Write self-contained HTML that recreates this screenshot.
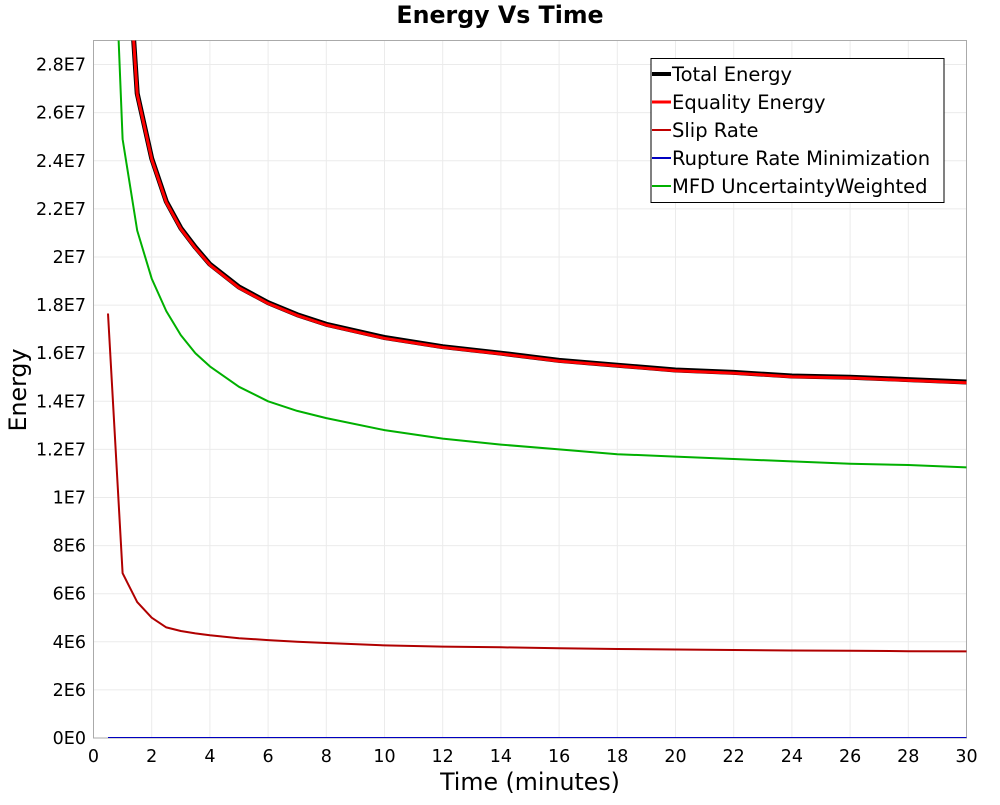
<!DOCTYPE html>
<html><head><meta charset="utf-8"><style>
body{margin:0;background:#fff}
svg text{font-family:"DejaVu Sans","Liberation Sans",sans-serif}
</style></head><body>
<svg id="chart" width="1000" height="800">
<text x="500" y="23" text-anchor="middle" font-size="23.7" font-weight="bold">Energy Vs Time</text>
<g id="grid"></g>
<rect x="93.5" y="40.5" width="873" height="697.5" fill="none" stroke="#aaa"/>
<g id="axes"></g>
<g id="series"></g>
<text x="530" y="790" text-anchor="middle" font-size="23.7">Time (minutes)</text>
<text transform="translate(26,390) rotate(-90)" text-anchor="middle" font-size="23.7">Energy</text>
<g>
<rect x="651" y="58.5" width="293" height="144" fill="#fff" stroke="#000"/>
<g id="legend"></g>
</g>
</svg>
<script>
const times=[0.5,1,1.5,2,2.5,3,3.5,4,5,6,7,8,10,12,14,16,18,20,22,24,26,28,30];
const totalEnergy=[6e7,3.6e7,2.68e7,2.41e7,2.23e7,2.12e7,2.04e7,1.97e7,1.875e7,1.81e7,1.76e7,1.72e7,1.665e7,1.627e7,1.6e7,1.57e7,1.55e7,1.53e7,1.52e7,1.505e7,1.5e7,1.49e7,1.48e7];
const equalityEnergy=[5.99e7,3.595e7,2.677e7,2.407e7,2.227e7,2.117e7,2.037e7,1.967e7,1.872e7,1.807e7,1.757e7,1.717e7,1.662e7,1.624e7,1.597e7,1.567e7,1.547e7,1.527e7,1.517e7,1.502e7,1.497e7,1.487e7,1.477e7];
const slipRate=[1.765e7,6.85e6,5.65e6,5.0e6,4.6e6,4.45e6,4.35e6,4.27e6,4.15e6,4.07e6,4.0e6,3.95e6,3.85e6,3.8e6,3.77e6,3.73e6,3.7e6,3.68e6,3.66e6,3.64e6,3.63e6,3.61e6,3.6e6];
const ruptureRate=[0,0,0,0,0,0,0,0,0,0,0,0,0,0,0,0,0,0,0,0,0,0,0];
const mfd=[4e7,2.49e7,2.11e7,1.91e7,1.775e7,1.675e7,1.6e7,1.545e7,1.46e7,1.4e7,1.36e7,1.33e7,1.28e7,1.245e7,1.22e7,1.2e7,1.18e7,1.17e7,1.16e7,1.15e7,1.14e7,1.135e7,1.125e7];
const xTicks=[0,2,4,6,8,10,12,14,16,18,20,22,24,26,28,30];
const yTicks=[0,2e6,4e6,6e6,8e6,1e7,1.2e7,1.4e7,1.6e7,1.8e7,2e7,2.2e7,2.4e7,2.6e7,2.8e7];
const yTickLabels=["0E0","2E6","4E6","6E6","8E6","1E7","1.2E7","1.4E7","1.6E7","1.8E7","2E7","2.2E7","2.4E7","2.6E7","2.8E7"];
const seriesNames=["Total Energy","Equality Energy","Slip Rate","Rupture Rate Minimization","MFD UncertaintyWeighted"];
const NS="http://www.w3.org/2000/svg";
const X0=93.5,X1=966.5,Y0=738,Y1=40.5,YMAX=2.9e7;
const sx=t=>X0+t/30*(X1-X0);
const sy=v=>Y0-v/YMAX*(Y0-Y1);
function mk(tag,attrs,parent){const e=document.createElementNS(NS,tag);for(const k in attrs)e.setAttribute(k,attrs[k]);parent.appendChild(e);return e;}
const grid=document.getElementById('grid'),axes=document.getElementById('axes'),ser=document.getElementById('series'),leg=document.getElementById('legend');
xTicks.forEach(t=>{
 const l=mk('line',{x1:sx(t),x2:sx(t),y1:Y1,y2:Y0,stroke:'#ebebeb'},grid);
 
 const tx=mk('text',{x:sx(t),y:762,'text-anchor':'middle','font-size':17.5},axes);tx.textContent=t;
 
});
yTicks.forEach((v,i)=>{
 const l=mk('line',{x1:X0,x2:X1,y1:sy(v),y2:sy(v),stroke:'#ebebeb'},grid);
 
 const tx=mk('text',{x:86,y:sy(v)+6,'text-anchor':'end','font-size':17.5},axes);tx.textContent=yTickLabels[i];
 
});
const defs=mk('defs',{},document.getElementById('chart'));
const cp=mk('clipPath',{id:'clip'},defs);mk('rect',{x:X0,y:Y1,width:X1-X0,height:Y0-Y1},cp);
const specs=[[totalEnergy,'#000',5,'total-energy-line'],[ruptureRate,'#0000c0',2,'rupture-rate-line'],[mfd,'#00b000',2,'mfd-line'],[slipRate,'#b00000',2,'slip-rate-line'],[equalityEnergy,'#ff0000',3,'equality-energy-line']];
specs.forEach(s=>{
 const d=times.map((t,i)=>(i?'L':'M')+sx(t).toFixed(1)+','+sy(s[0][i]).toFixed(1)).join('');
 const p=mk('path',{d:d,fill:'none',stroke:s[1],'stroke-width':s[2],'clip-path':'url(#clip)','stroke-linejoin':'round'},ser);
 
});
const legColors=['#000','#ff0000','#c00000','#0000c0','#00b000'],legW=[4,3,2,2,2];
seriesNames.forEach((n,i)=>{
 const y=74+i*28;
 const g=mk('g',{},leg);
 
 mk('line',{x1:652,x2:671,y1:y,y2:y,stroke:legColors[i],'stroke-width':legW[i]},g);
 const tx=mk('text',{x:672,y:y+7,'font-size':19.5},g);tx.textContent=n;
});
</script>
</body></html>
